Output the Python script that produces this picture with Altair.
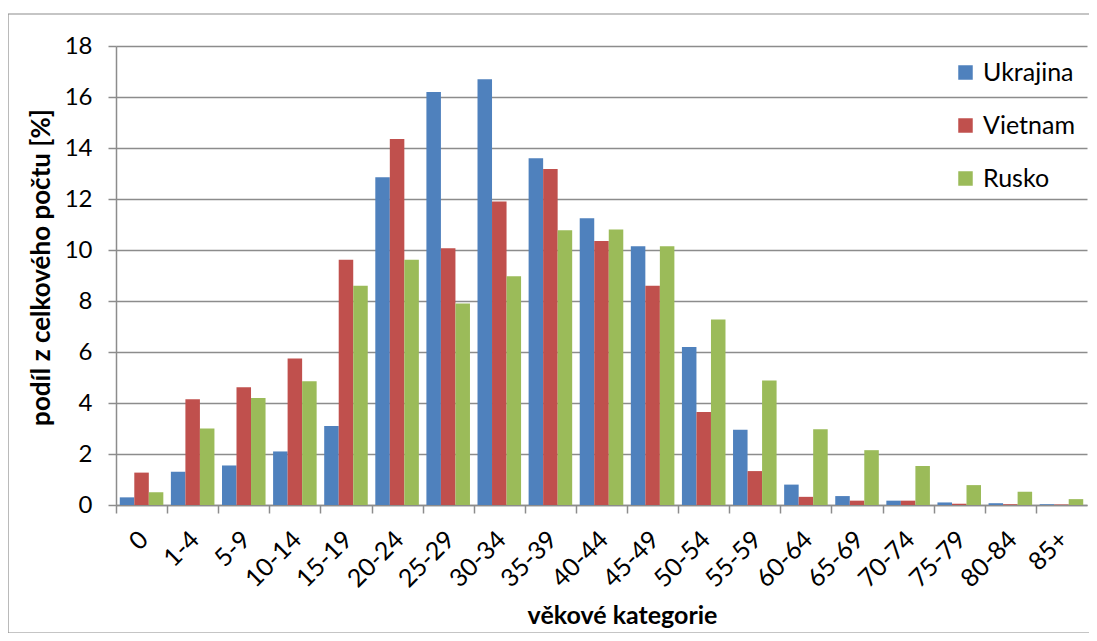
import altair as alt
import pandas as pd

categories = ["0", "1-4", "5-9", "10-14", "15-19", "20-24", "25-29", "30-34", "35-39",
              "40-44", "45-49", "50-54", "55-59", "60-64", "65-69", "70-74", "75-79",
              "80-84", "85+"]
series = ["Ukrajina", "Vietnam", "Rusko"]
ukrajina = [0.3, 1.3, 1.55, 2.1, 3.1, 12.85, 16.2, 16.7, 13.6, 11.25, 10.15, 6.2, 2.95,
            0.8, 0.35, 0.17, 0.1, 0.07, 0.03]
vietnam = [1.27, 4.15, 4.62, 5.75, 9.62, 14.35, 10.07, 11.9, 13.18, 10.35, 8.6, 3.65,
           1.33, 0.32, 0.17, 0.17, 0.05, 0.03, 0.02]
rusko = [0.5, 3.0, 4.2, 4.85, 8.6, 9.62, 7.9, 8.97, 10.77, 10.8, 10.15, 7.27, 4.88,
         2.97, 2.15, 1.53, 0.78, 0.52, 0.23]
colors = ["#4F81BD", "#C0504D", "#9BBB59"]

rows = []
for name, vals in zip(series, [ukrajina, vietnam, rusko]):
    for c, v in zip(categories, vals):
        rows.append({"kategorie": c, "zeme": name, "podil": v})
df = pd.DataFrame(rows)

W, H = 971, 459
band = W / len(categories)
FONT = "Lato"

bars = alt.Chart(df).mark_bar(clip=False).encode(
    x=alt.X("kategorie:N", sort=categories,
            scale=alt.Scale(paddingInner=0, paddingOuter=0),
            axis=alt.Axis(title="věkové kategorie", labelAngle=-45, labelAlign="right",
                          labelBaseline="middle", tickOffset=-band / 2,
                          labelOffset=band / 2 + 2, labelFontSize=25,
                          labelPadding=22, tickSize=8, grid=False,
                          titleFontSize=25, titlePadding=12, titleX=506)),
    xOffset=alt.XOffset("zeme:N", sort=series,
                        scale=alt.Scale(paddingInner=0, paddingOuter=0.26)),
    y=alt.Y("podil:Q", scale=alt.Scale(domain=[0, 18], nice=False),
            axis=alt.Axis(title="podíl z celkového počtu [%]", values=list(range(0, 19, 2)),
                          tickSize=8, labelPadding=16, grid=True, labelFontSize=24,
                          titleFontSize=26, titlePadding=10, titleY=221)),
    color=alt.Color("zeme:N", sort=series,
                    scale=alt.Scale(domain=series, range=colors),
                    legend=alt.Legend(title=None, orient="none", legendX=837, legendY=14,
                                      symbolType="square", symbolSize=210,
                                      symbolStrokeWidth=0, rowPadding=27,
                                      labelOffset=5, labelFontSize=25, labelFont=FONT,
                                      labelColor="black")),
)

frame = alt.Chart(pd.DataFrame({"a": [0]})).mark_rect(
    fill=None, stroke="#8c8c8c", strokeWidth=1.2, clip=False
).encode(
    x=alt.value(-108), x2=alt.value(974), y=alt.value(-32), y2=alt.value(587)
)

chart = alt.layer(bars, frame).properties(
    width=W, height=H,
    autosize=alt.AutoSizeParams(type="none"),
    padding={"left": 108, "top": 38, "right": 2, "bottom": 128},
).configure_view(stroke=None).configure_axis(
    labelFont=FONT, titleFont=FONT,
    labelColor="black", titleColor="black", titleFontWeight="bold",
    domainColor="#8c8c8c", tickColor="#8c8c8c", gridColor="#8c8c8c",
    domainWidth=1.5, tickWidth=1.5, gridWidth=1.5,
)

chart.save("out.html", embed_options={"renderer": "svg", "actions": False})
